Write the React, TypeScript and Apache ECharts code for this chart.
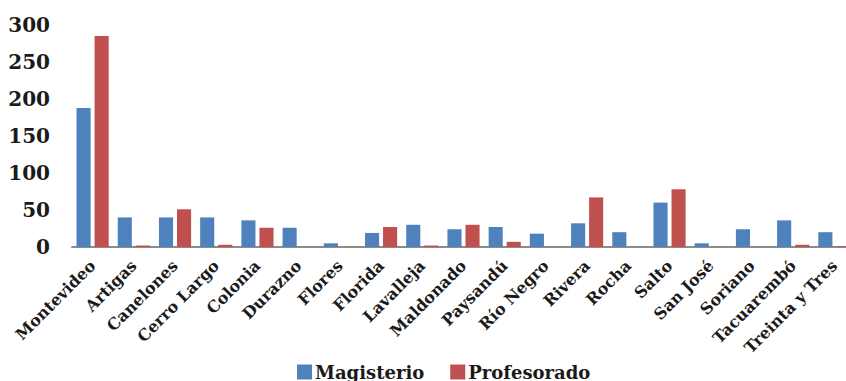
import React, { useEffect, useRef } from "react";
import * as echarts from "echarts";

const categories = [
  "Montevideo", "Artigas", "Canelones", "Cerro Largo", "Colonia", "Durazno",
  "Flores", "Florida", "Lavalleja", "Maldonado", "Paysandú", "Río Negro",
  "Rivera", "Rocha", "Salto", "San José", "Soriano", "Tacuarembó", "Treinta y Tres",
];
const magisterio = [188, 40, 40, 40, 36, 26, 5, 19, 30, 24, 27, 18, 32, 20, 60, 5, 24, 36, 20];
const profesorado = [285, 2, 51, 3, 26, 0, 0, 27, 2, 30, 7, 0, 67, 0, 78, 0, 0, 3, 1];
const seriesNames = ["Magisterio", "Profesorado"];
const yTicks = { min: 0, max: 300, interval: 50 };

const FONT = "DejaVu Serif";

export default function App() {
  const ref = useRef<HTMLDivElement>(null);
  useEffect(() => {
    if (!ref.current) return;
    const chart = echarts.init(ref.current, null, { renderer: "svg" });
    chart.setOption({
      animation: false,
      backgroundColor: "#ffffff",
      grid: { left: 72, right: 5, top: 25, bottom: 134, containLabel: false },
      legend: {
        data: seriesNames,
        left: 292,
        top: 358,
        itemWidth: 15,
        itemHeight: 15,
        itemGap: 26,
        icon: "rect",
        textStyle: { fontFamily: FONT, fontWeight: "bold", fontSize: 18, color: "#1a1a1a", padding: [0, 0, 0, -2] },
      },
      xAxis: {
        type: "category",
        data: categories,
        axisLine: { lineStyle: { color: "#8c8c8c", width: 2 } },
        axisTick: { show: false },
        axisLabel: {
          rotate: 45,
          interval: 0,
          margin: 16,
          fontFamily: FONT,
          fontWeight: "bold",
          fontSize: 16,
          color: "#1a1a1a",
        },
      },
      yAxis: {
        type: "value",
        min: yTicks.min,
        max: yTicks.max,
        interval: yTicks.interval,
        axisLine: { show: false },
        axisTick: { show: false },
        splitLine: { show: false },
        axisLabel: {
          margin: 22,
          fontFamily: FONT,
          fontWeight: "bold",
          fontSize: 20,
          color: "#1a1a1a",
        },
      },
      series: [
        {
          name: seriesNames[0],
          type: "bar",
          data: magisterio,
          itemStyle: { color: "#4F81BD" },
          barGap: "28%",
          barCategoryGap: "22%",
        },
        {
          name: seriesNames[1],
          type: "bar",
          data: profesorado,
          itemStyle: { color: "#C0504D" },
          barGap: "28%",
          barCategoryGap: "22%",
        },
      ],
    });
    return () => chart.dispose();
  }, []);
  return (
    <div
      ref={ref}
      style={{ position: "fixed", left: 0, top: 0, width: 860, height: 381, background: "#fff" }}
    />
  );
}
